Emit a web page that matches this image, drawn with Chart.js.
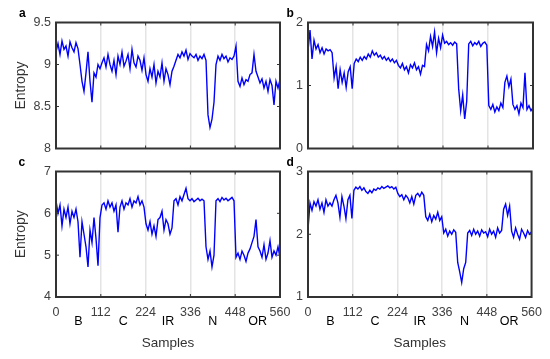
<!DOCTYPE html>
<html><head><meta charset="utf-8">
<script src="https://cdn.jsdelivr.net/npm/chart.js@4.4.1/dist/chart.umd.min.js"></script>
<style>
html,body{margin:0;padding:0;background:#fff;}
#wrap{position:relative;width:550px;height:359px;}
#wrap canvas{position:absolute;left:0;top:0;}
</style></head><body>
<div id="wrap">
<canvas id="pa" width="550" height="359"></canvas>
<canvas id="pb" width="550" height="359"></canvas>
<canvas id="pc" width="550" height="359"></canvas>
<canvas id="pd" width="550" height="359"></canvas>
</div>
<script>
const samples = [0,5,10,15,20,25,30,35,40,45,50,55,60,65,70,75,80,85,90,95,100,105,110,115,120,125,130,135,140,145,150,155,160,165,170,175,180,185,190,195,200,205,210,215,220,225,230,235,240,245,250,255,260,265,270,275,280,285,290,295,300,305,310,315,320,325,330,335,340,345,350,355,360,365,370,375,380,385,390,395,400,405,410,415,420,425,430,435,440,445,450,455,460,465,470,475,480,485,490,495,500,505,510,515,520,525,530,535,540,545,550,555,560];
const xTickValues = [0,112,224,336,448,560];
const faultCategories = ['B','C','IR','N','OR'];
const categoryCenters = [56,168,280,392,504];

const entropyA = [9.15,9.25,9.12,9.28,9.18,9.22,9.1,9.27,9.2,9.15,9.26,9.19,
 9.0,
 8.8,8.68,8.9,9.15,8.8,8.55,8.9,8.85,9.0,8.95,
 9.02,9.08,8.97,9.12,9.0,8.92,9.05,8.88,9.1,9.0,9.15,8.98,9.04,9.12,8.95,9.18,9.02,8.97,9.1,9.05,8.93,9.08,
 8.88,8.8,8.95,8.85,9.0,8.78,8.92,8.85,9.02,8.8,8.95,8.88,8.76,8.92,8.98,
 9.05,9.12,9.08,9.15,9.1,9.17,9.06,9.13,9.1,9.08,9.12,9.05,9.1,9.07,9.12,9.05,
 8.4,8.25,8.35,8.55,
 9.0,9.1,9.05,9.12,9.07,9.1,9.03,9.08,9.06,9.1,
 9.22,
 8.8,8.74,8.84,8.76,8.82,8.8,8.88,8.9,9.12,8.92,8.85,8.78,8.83,8.72,8.8,8.68,8.82,8.75,8.52,8.8,8.72,8.82];
const yTicksA = [8,8.5,9,9.5];

const entropyB = [1.55,1.88,1.42,1.72,1.58,1.65,1.52,1.6,1.5,1.58,1.55,1.57,
 1.52,1.12,1.3,0.95,1.25,1.05,1.2,0.97,1.22,1.3,0.95,
 1.35,1.42,1.38,1.45,1.4,1.46,1.42,1.5,1.45,1.55,1.48,1.52,1.45,1.48,1.42,1.46,1.4,1.44,1.38,1.42,1.36,1.4,
 1.32,1.28,1.35,1.25,1.3,1.2,1.33,1.28,1.36,1.25,1.3,1.18,1.32,1.3,
 1.65,1.55,1.78,1.62,1.85,1.52,1.75,1.6,1.8,
 1.67,1.7,1.65,1.68,1.64,1.69,1.66,
 0.95,0.6,0.85,0.47,0.75,
 1.66,1.7,1.63,1.68,1.65,1.7,1.62,1.67,1.69,1.64,
 0.68,0.62,0.7,0.58,0.66,0.6,0.72,0.65,
 1.05,1.15,0.98,1.1,
 0.7,0.62,0.68,0.55,0.72,0.65,1.2,0.62,0.68,0.6,0.65];
const yTicksB = [0,1,2];

const entropyC = [6.3,6.0,6.2,5.7,6.1,5.9,6.15,5.75,6.05,5.9,6.1,5.8,
 4.95,5.8,5.5,5.2,4.72,5.6,5.3,5.9,5.4,4.75,5.9,
 6.2,6.25,6.1,6.3,6.15,6.25,6.05,6.2,5.55,6.15,6.3,6.1,6.25,6.2,6.35,6.15,6.3,6.25,6.4,6.2,6.3,6.15,
 5.75,5.6,5.8,5.5,5.7,5.45,5.85,5.9,6.05,5.6,5.85,5.75,5.5,5.65,
 6.3,6.35,6.2,6.4,6.3,6.45,6.6,6.35,6.3,6.35,6.28,6.32,6.36,6.3,6.34,6.3,
 5.2,4.9,5.1,4.72,5.0,
 6.3,6.35,6.28,6.38,6.32,6.36,6.3,6.34,6.38,6.3,
 4.95,5.05,4.9,5.1,5.0,4.85,5.05,5.15,5.3,5.45,5.85,5.2,5.1,4.95,5.25,4.9,5.05,5.35,4.95,5.1,5.0,5.2,4.95];
const yTicksC = [4,5,6,7];

const entropyD = [2.08,2.5,2.38,2.52,2.45,2.55,2.4,2.5,2.35,2.55,2.45,2.5,
 2.45,2.55,2.62,2.5,2.27,2.6,2.45,2.25,2.55,2.62,2.25,
 2.7,2.75,2.72,2.76,2.7,2.74,2.68,2.65,2.7,2.66,2.72,2.7,2.74,2.72,2.76,2.73,2.75,2.77,2.74,2.76,2.72,2.75,
 2.65,2.6,2.63,2.55,2.62,2.58,2.5,2.6,2.48,2.62,2.65,2.6,2.67,2.62,
 2.28,2.22,2.32,2.2,2.3,2.24,2.35,2.22,2.28,
 2.02,2.08,1.97,2.05,2.0,2.07,2.03,
 1.55,1.4,1.23,1.45,1.55,
 2.02,2.06,1.98,2.08,2.0,2.05,1.97,2.07,2.02,2.04,1.96,2.08,2.0,2.05,1.95,2.1,2.02,2.06,
 2.4,2.48,2.3,2.45,
 2.05,1.95,2.1,2.0,1.92,2.08,2.02,1.95,2.06,2.0,2.04];
const yTicksD = [1,2,3];

const FONT = "'Liberation Sans', Arial, Helvetica, sans-serif";

const framePlugin = {
  id: 'frame',
  afterDraw(chart, args, opts) {
    const {ctx, chartArea: a, scales: {x, y}} = chart;
    ctx.save();
    ctx.strokeStyle = '#333';
    ctx.lineWidth = 1;
    ctx.beginPath();
    xTickValues.slice(1, -1).forEach(v => {
      const px = x.getPixelForValue(v);
      ctx.moveTo(px, a.bottom); ctx.lineTo(px, a.bottom - 3);
      ctx.moveTo(px, a.top); ctx.lineTo(px, a.top + 3);
    });
    y.ticks.slice(1, -1).forEach(t => {
      const py = y.getPixelForValue(t.value);
      ctx.moveTo(a.left, py); ctx.lineTo(a.left + 3, py);
      ctx.moveTo(a.right, py); ctx.lineTo(a.right - 3, py);
    });
    ctx.stroke();
    ctx.lineWidth = 2;
    ctx.strokeRect(a.left, a.top, a.right - a.left, a.bottom - a.top);
    ctx.fillStyle = '#000';
    ctx.font = 'bold 12px ' + FONT;
    ctx.textAlign = 'left';
    ctx.textBaseline = 'alphabetic';
    ctx.fillText(opts.letter, a.left + opts.letterDX, a.top + opts.letterDY);
    if (opts.showCategories) {
      ctx.font = '12.5px ' + FONT;
      ctx.textAlign = 'center';
      ctx.textBaseline = 'middle';
      faultCategories.forEach((c, i) => ctx.fillText(c, x.getPixelForValue(categoryCenters[i]), a.bottom + 25));
    }
    ctx.restore();
  }
};

function makePanel(id, values, yTicks, cfg) {
  new Chart(document.getElementById(id), {
    type: 'line',
    data: {
      datasets: [{
        data: samples.map((s, i) => ({x: s, y: values[i]})),
        borderColor: '#0000ff',
        borderWidth: 1.4,
        pointRadius: 0,
        tension: 0,
        fill: false
      }]
    },
    options: {
      responsive: false,
      animation: false,
      devicePixelRatio: 1,
      layout: {padding: cfg.padding},
      plugins: {
        legend: {display: false},
        tooltip: {enabled: false},
        frame: {letter: cfg.letter, letterDX: cfg.letterDX, letterDY: cfg.letterDY, showCategories: cfg.bottom}
      },
      scales: {
        x: {
          type: 'linear',
          min: xTickValues[0],
          max: xTickValues[xTickValues.length - 1],
          afterBuildTicks: s => { s.ticks = xTickValues.map(v => ({value: v})); },
          afterFit: s => { s.height = cfg.bottom ? 62 : 0; },
          border: {display: false},
          grid: {
            drawTicks: false,
            lineWidth: 1.5,
            color: c => (c.tick && (c.tick.value === 0 || c.tick.value === 560)) ? 'rgba(0,0,0,0)' : '#e4e4e4'
          },
          ticks: {
            display: cfg.bottom,
            autoSkip: false,
            maxRotation: 0,
            padding: 8,
            color: '#404040',
            font: {family: FONT, size: 12.5},
            callback: v => String(v)
          },
          title: {
            display: cfg.bottom,
            text: 'Samples',
            color: '#333',
            font: {family: FONT, size: 13.5},
            padding: {top: 0, bottom: 8}
          }
        },
        y: {
          min: yTicks[0],
          max: yTicks[yTicks.length - 1],
          afterBuildTicks: s => { s.ticks = yTicks.map(v => ({value: v})); },
          afterFit: s => { s.width = cfg.yWidth; },
          border: {display: false},
          grid: {display: false, drawTicks: false},
          ticks: {
            padding: 5,
            color: '#404040',
            font: {family: FONT, size: 12.5},
            callback: v => String(v)
          },
          title: {
            display: cfg.left,
            text: 'Entropy',
            color: '#333',
            font: {family: FONT, size: 14},
            padding: {top: 12.5, bottom: 0}
          }
        }
      }
    },
    plugins: [framePlugin]
  });
}

makePanel('pa', entropyA, yTicksA, {padding: {left: 0, right: 270, top: 22.5, bottom: 210.5}, yWidth: 56, left: true, bottom: false, letter: 'a', letterDX: -37, letterDY: -6});
makePanel('pb', entropyB, yTicksB, {padding: {left: 278, right: 17, top: 22.5, bottom: 210.5}, yWidth: 30, left: false, bottom: false, letter: 'b', letterDX: -21.5, letterDY: -5.5});
makePanel('pc', entropyC, yTicksC, {padding: {left: 0, right: 270, top: 171.5, bottom: 0}, yWidth: 56, left: true, bottom: true, letter: 'c', letterDX: -37.5, letterDY: -6});
makePanel('pd', entropyD, yTicksD, {padding: {left: 278, right: 17, top: 171.5, bottom: 0}, yWidth: 30, left: false, bottom: true, letter: 'd', letterDX: -21.5, letterDY: -6});
</script>
</body></html>
